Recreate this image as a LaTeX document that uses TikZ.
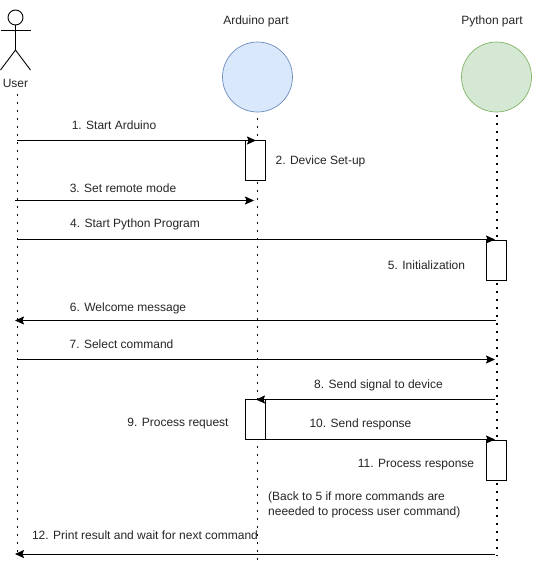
\documentclass[tikz,border=0pt]{standalone}
\usepackage{fontspec}
\setmainfont{Liberation Sans}
\usetikzlibrary{arrows.meta}
\definecolor{cBlue}{HTML}{6C8EBF}
\definecolor{cBlueF}{HTML}{DAE8FC}
\definecolor{cGreen}{HTML}{82B366}
\definecolor{cGreenF}{HTML}{D5E8D4}
\tikzset{
  life/.style={line width=1.6pt,dash pattern=on 1.6pt off 6.4pt,black},
  msg/.style={line width=1pt,-{Stealth[length=9pt,width=8pt,inset=1.5pt]}},
  act/.style={draw=black,line width=0.9pt,fill=white,minimum width=20pt,minimum height=40pt,inner sep=0pt,outer sep=0pt},
  lbl/.style={font=\fontsize{12}{14.5}\selectfont,text=black!85,inner sep=0pt,anchor=center},
  part/.style={circle,minimum size=70pt,inner sep=0pt,line width=0.7pt},
  stick/.style={draw=black,line width=0.9pt}
}
\begin{document}
\begin{tikzpicture}[x=1pt,y=-1pt]
\useasboundingbox[fill=white] (0,0) rectangle (553,563);
% participants
\node[part,draw=cBlue,fill=cBlueF] (ard) at (257.5,77) {};
\node[part,draw=cGreen,fill=cGreenF] (py) at (496.5,77) {};
\node[lbl] (ardT) at (256,21) {Arduino part};
\node[lbl] (pyT) at (492,21) {Python part};
% user actor
\node[circle,draw=black,line width=0.9pt,minimum size=15pt,inner sep=0pt] (head) at (15.5,17.5) {};
\coordinate (hip) at (15.5,50);
\coordinate (armL) at (0.5,30);
\coordinate (armR) at (30.5,30);
\coordinate (legL) at (0.5,70);
\coordinate (legR) at (30.5,70);
\draw[stick] (head.south) -- (hip);
\draw[stick] (armL) -- (armR);
\draw[stick] (legL) -- (hip) -- (legR);
\node[lbl] (userT) at (15.5,83.5) {User};
% lifelines
\coordinate (uTop) at (17.3,94);
\coordinate (uBot) at (17.3,558);
\coordinate (aTop) at (257.3,118);
\coordinate (aBot) at (257.3,561);
\coordinate (pTop) at (496.7,115);
\coordinate (pBot) at (496.7,556);
\draw[life] (uTop) -- (uBot);
\draw[life] (aTop) -- (aBot);
\draw[life] (pTop) -- (pBot);
% activations
\node[act] (a1) at (255.7,160.5) {};
\node[act] (p1) at (496.5,260.5) {};
\node[act] (a2) at (255.7,419.5) {};
\node[act] (p2) at (496.5,460.5) {};
% message end points
\coordinate (m1s) at (17,140.5); \coordinate (m1e) at (256,140.5);
\coordinate (m3s) at (15,200.5); \coordinate (m3e) at (254,200.5);
\coordinate (m4s) at (17,239.5); \coordinate (m4e) at (495,239.5);
\coordinate (m6s) at (496,320.5); \coordinate (m6e) at (15,320.5);
\coordinate (m7s) at (17,359.5); \coordinate (m7e) at (495,359.5);
\coordinate (m8s) at (495,399.5); \coordinate (m8e) at (256,399.5);
\coordinate (m10s) at (266,439.5); \coordinate (m10e) at (495,439.5);
\coordinate (m12s) at (495,554); \coordinate (m12e) at (15,554);
\foreach \s/\e in {m1s/m1e,m3s/m3e,m4s/m4e,m6s/m6e,m7s/m7e,m8s/m8e,m10s/m10e,m12s/m12e}
  \draw[msg] (\s) -- (\e);
% labels
\node[lbl] (l1) at (114,125) {1. Start Arduino};
\node[lbl] (l2) at (320.5,161.5) {2. Device Set-up};
\node[lbl] (l3) at (123,188) {3. Set remote mode};
\node[lbl] (l4) at (135,224.5) {4. Start Python Program};
\node[lbl] (l5) at (426.5,265) {5. Initialization};
\node[lbl] (l6) at (128,308.5) {6. Welcome message};
\node[lbl] (l7) at (121.5,344) {7. Select command};
\node[lbl] (l8) at (378.5,385) {8. Send signal to device};
\node[lbl] (l9) at (178,424) {9. Process request};
\node[lbl] (l10) at (360.5,424.5) {10. Send response};
\node[lbl] (l11) at (416,465) {11. Process response};
\node[lbl,align=left,anchor=west] (l13) at (268,505) {(Back to 5 if more commands are\\neeeded to process user command)};
\node[lbl] (l12) at (145,535) {12. Print result and wait for next command};
\end{tikzpicture}
\end{document}
